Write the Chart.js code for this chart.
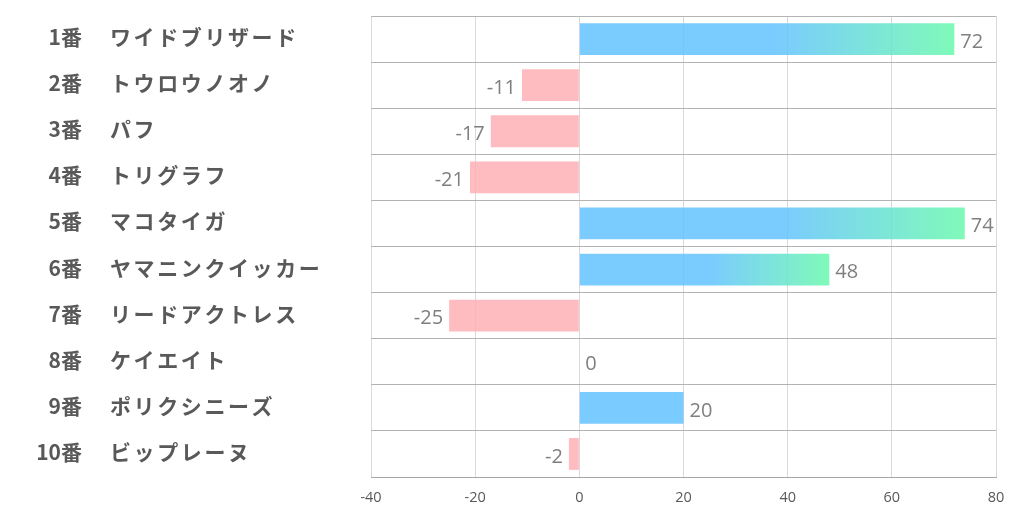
<!DOCTYPE html>
<html>
<head>
<meta charset="utf-8">
<script src="https://cdn.jsdelivr.net/npm/chart.js@4.4.1/dist/chart.umd.min.js"></script>
<style>
html,body{margin:0;padding:0;background:#fff;}
#wrap{width:1022px;height:522px;position:relative;}
</style>
</head>
<body>
<div id="wrap"><canvas id="c" width="1022" height="522"></canvas></div>
<script>
const numbers = ['1番','2番','3番','4番','5番','6番','7番','8番','9番','10番'];
const names = ['ワイドブリザード','トウロウノオノ','パフ','トリグラフ','マコタイガ','ヤマニンクイッカー','リードアクトレス','ケイエイト','ポリクシニーズ','ビップレーヌ'];
const values = [72, -11, -17, -21, 74, 48, -25, 0, 20, -2];
const xTicks = [-40, -20, 0, 20, 40, 60, 80];

const categories = numbers.map((n, i) => n + '　' + names[i]);

const BLUE = 'rgba(99,194,255,0.85)';
const GREEN = 'rgba(105,249,173,0.85)';
const PINK = 'rgba(255,176,181,0.85)';

function barColor(ctx) {
  const v = ctx.raw;
  if (v < 0) return PINK;
  const chart = ctx.chart;
  const xs = chart.scales.x;
  if (!xs || v <= 30) return BLUE;
  const x0 = xs.getPixelForValue(0);
  const x1 = xs.getPixelForValue(v);
  if (!isFinite(x0) || !isFinite(x1)) return BLUE;
  const g = chart.ctx.createLinearGradient(x0, 0, x1, 0);
  g.addColorStop(0, BLUE);
  g.addColorStop(0.52, BLUE);
  g.addColorStop(1, GREEN);
  return g;
}

const labelPlugin = {
  id: 'labels',
  afterDatasetsDraw(chart) {
    const ctx = chart.ctx;
    const ys = chart.scales.y;
    const meta = chart.getDatasetMeta(0);
    ctx.save();
    // left category labels
    ctx.fillStyle = '#595959';
    ctx.textBaseline = 'middle';
    categories.forEach((c, i) => {
      const y = ys.getPixelForValue(i) - 2;
      ctx.font = 'bold 21px "Noto Sans CJK JP", "Open Sans", sans-serif';
      ctx.textAlign = 'right';
      ctx.fillText(numbers[i], 82, y);
      ctx.textAlign = 'left';
      let x = 110;
      for (const ch of names[i]) {
        ctx.fillText(ch, x, y);
        x += 23.6;
      }
    });
    // value labels
    ctx.fillStyle = '#7f7f7f';
    ctx.font = '20px "Open Sans", sans-serif';
    meta.data.forEach((bar, i) => {
      const v = values[i];
      const y = bar.y + 3;
      if (v < 0) {
        ctx.textAlign = 'right';
        ctx.fillText(String(v), bar.x - 6, y);
      } else {
        ctx.textAlign = 'left';
        ctx.fillText(String(v), bar.x + 6, y);
      }
    });
    ctx.restore();
  }
};

new Chart(document.getElementById('c'), {
  type: 'bar',
  data: {
    labels: categories,
    datasets: [{
      data: values,
      backgroundColor: barColor,
      borderWidth: 0,
      barPercentage: 0.69,
      categoryPercentage: 1.0
    }]
  },
  options: {
    indexAxis: 'y',
    responsive: false,
    animation: false,
    events: [],
    layout: { padding: { left: 371, right: 26, top: 16, bottom: 0 } },
    plugins: { legend: { display: false }, tooltip: { enabled: false } },
    scales: {
      x: {
        min: -40, max: 80,
        afterBuildTicks(s) { s.ticks = xTicks.map(v => ({ value: v })); },
        afterFit(s) { s.height = 45; },
        grid: { color: '#d9d9d9', lineWidth: 1, drawTicks: false },
        border: { color: '#a6a6a6', width: 1 },
        ticks: {
          color: '#595959',
          font: { family: '"Open Sans", sans-serif', size: 14.5 },
          padding: 12,
          maxRotation: 0
        }
      },
      y: {
        afterFit(s) { s.width = 0; },
        ticks: { display: false },
        grid: { color: '#b3b3b3', lineWidth: 1, offset: true, drawTicks: false },
        border: { display: false }
      }
    }
  },
  plugins: [labelPlugin]
});
</script>
</body>
</html>
